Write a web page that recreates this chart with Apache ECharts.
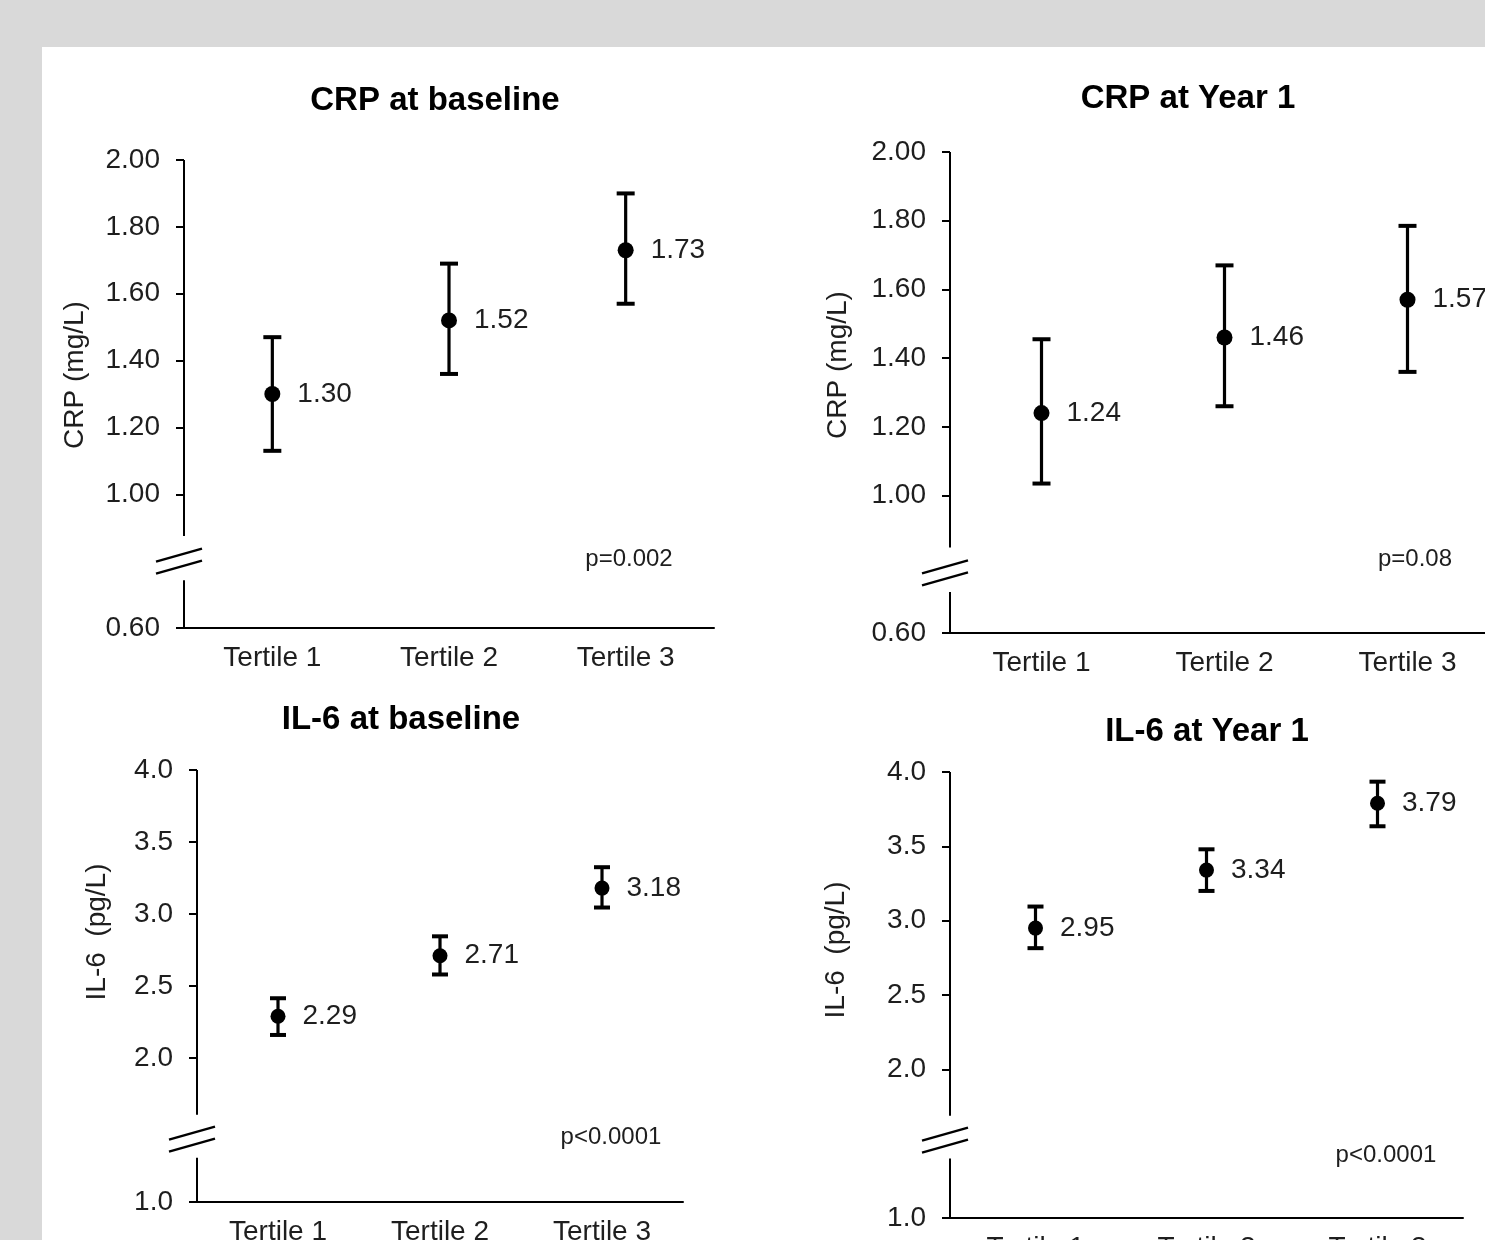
<!DOCTYPE html>
<html>
<head>
<meta charset="utf-8">
<script src="https://cdn.jsdelivr.net/npm/echarts@6/dist/echarts.min.js"></script>
<style>
html,body{margin:0;padding:0;background:#d9d9d9;}
#chart{width:1485px;height:1240px;}
</style>
</head>
<body>
<div id="chart"></div>
<script>
// ---------- data ----------
const categories = ['Tertile 1', 'Tertile 2', 'Tertile 3'];
const panelTitles = ['CRP at baseline', 'CRP at Year 1', 'IL-6 at baseline', 'IL-6 at Year 1'];
const yAxisNames = ['CRP (mg/L)', 'CRP (mg/L)', 'IL-6  (pg/L)', 'IL-6  (pg/L)'];
const pValueTexts = ['p=0.002', 'p=0.08', 'p<0.0001', 'p<0.0001'];

const crpBaselineMean = [1.30, 1.52, 1.73];
const crpBaselineLow  = [1.13, 1.36, 1.57];
const crpBaselineHigh = [1.47, 1.69, 1.90];

const crpYear1Mean = [1.24, 1.46, 1.57];
const crpYear1Low  = [1.035, 1.26, 1.36];
const crpYear1High = [1.455, 1.67, 1.785];

const il6BaselineMean = [2.29, 2.71, 3.18];
const il6BaselineLow  = [2.16, 2.58, 3.045];
const il6BaselineHigh = [2.415, 2.845, 3.325];

const il6Year1Mean = [2.95, 3.34, 3.79];
const il6Year1Low  = [2.815, 3.20, 3.635];
const il6Year1High = [3.095, 3.48, 3.935];

const yMinValues = [0.6, 0.6, 1.0, 1.0];
const yMaxValues = [2.0, 2.0, 4.0, 4.0];
const yIntervals = [0.2, 0.2, 0.5, 0.5];
const crpTickValues = [0.6, 1.0, 1.2, 1.4, 1.6, 1.8, 2.0];
const il6TickValues = [1.0, 2.0, 2.5, 3.0, 3.5, 4.0];
const tickDecimals = [2, 2, 1, 1];
// axis break: [lower end of gap, upper end of gap]
const axisGapValues = [[0.743, 0.875], [0.719, 0.849], [1.308, 1.606], [1.40, 1.687]];

// ---------- layout / style ----------
const FONT = "'Liberation Sans', Arial, Helvetica, sans-serif";
const TXT = '#1e1e1e';
const grids = [
  {left: 184, top: 160, width: 530, height: 468},
  {left: 950, top: 152, width: 549, height: 481},
  {left: 197, top: 770, width: 486, height: 432},
  {left: 950, top: 772, width: 513, height: 446}
];
const titlePos = [[435, 101], [1188, 99], [401, 720], [1207, 732]];
const namePos  = [[75, 375], [838, 365], [97, 932], [836, 950]];
const pPos     = [[629, 559], [1415, 559], [611, 1137], [1386, 1155]];
const capHalf  = [9, 9, 8, 8];
const dotSize  = [16, 16, 15, 15];

const panels = [
  {mean: crpBaselineMean, low: crpBaselineLow, high: crpBaselineHigh, ticks: crpTickValues},
  {mean: crpYear1Mean, low: crpYear1Low, high: crpYear1High, ticks: crpTickValues},
  {mean: il6BaselineMean, low: il6BaselineLow, high: il6BaselineHigh, ticks: il6TickValues},
  {mean: il6Year1Mean, low: il6Year1Low, high: il6Year1High, ticks: il6TickValues}
];

const chart = echarts.init(document.getElementById('chart'), null, {renderer: 'canvas'});

const gridOpt = [], xAxes = [], yAxes = [], series = [], graphics = [];

graphics.push({type: 'rect', z: -100, shape: {x: 42, y: 47, width: 1443, height: 1193}, style: {fill: '#ffffff'}});

panels.forEach((p, i) => {
  gridOpt.push(Object.assign({containLabel: false, outerBoundsMode: 'none'}, grids[i]));
  xAxes.push({
    type: 'category', gridIndex: i, data: categories,
    axisLine: {show: true, lineStyle: {color: '#000', width: 2}},
    axisTick: {show: false},
    axisLabel: {fontSize: 28, color: TXT, fontFamily: FONT, margin: 16},
    splitLine: {show: false}
  });
  const dec = tickDecimals[i];
  yAxes.push({
    type: 'value', gridIndex: i,
    min: yMinValues[i], max: yMaxValues[i], interval: yIntervals[i],
    axisLine: {show: false},
    axisTick: {show: true, inside: false, length: 8, lineStyle: {color: '#000', width: 2}, customValues: p.ticks},
    axisLabel: {fontSize: 28, color: TXT, fontFamily: FONT, margin: 24, customValues: p.ticks,
      formatter: v => Number(v).toFixed(dec)},
    splitLine: {show: false}
  });

  // axis line with break marks
  const gap = axisGapValues[i];
  const ymin = yMinValues[i], ymax = yMaxValues[i];
  series.push({
    type: 'custom', xAxisIndex: i, yAxisIndex: i, silent: true, clip: false, z: 3,
    data: [[0, ymin, ymax]],
    renderItem: function (params, api) {
      const x0 = params.coordSys.x;
      const yTop = api.coord([0, ymax])[1];
      const yBot = api.coord([0, ymin])[1];
      const yGapHi = api.coord([0, gap[1]])[1];
      const yGapLo = api.coord([0, gap[0]])[1];
      const mid = (yGapHi + yGapLo) / 2 + 3;
      const cx = x0 - 5, w = 23, r = 6.5;
      const st = {stroke: '#000', lineWidth: 2.4};
      return {type: 'group', children: [
        {type: 'line', shape: {x1: x0, y1: yTop, x2: x0, y2: yGapHi}, style: {stroke: '#000', lineWidth: 2}},
        {type: 'line', shape: {x1: x0, y1: yGapLo, x2: x0, y2: yBot + 1}, style: {stroke: '#000', lineWidth: 2}},
        {type: 'line', shape: {x1: cx - w, y1: mid - 6 + r, x2: cx + w, y2: mid - 6 - r}, style: st},
        {type: 'line', shape: {x1: cx - w, y1: mid + 6 + r, x2: cx + w, y2: mid + 6 - r}, style: st}
      ]};
    }
  });

  // error bars
  const hw = capHalf[i];
  series.push({
    type: 'custom', xAxisIndex: i, yAxisIndex: i, silent: true, z: 4,
    data: categories.map((c, k) => [k, p.low[k], p.high[k]]),
    encode: {x: 0, y: [1, 2]},
    renderItem: function (params, api) {
      const lo = api.coord([api.value(0), api.value(1)]);
      const hi = api.coord([api.value(0), api.value(2)]);
      const st = {stroke: '#000', lineWidth: 3.2};
      return {type: 'group', children: [
        {type: 'line', shape: {x1: lo[0], y1: lo[1], x2: hi[0], y2: hi[1]}, style: st},
        {type: 'line', shape: {x1: lo[0] - hw, y1: lo[1], x2: lo[0] + hw, y2: lo[1]}, style: {stroke: '#000', lineWidth: 4}},
        {type: 'line', shape: {x1: hi[0] - hw, y1: hi[1], x2: hi[0] + hw, y2: hi[1]}, style: {stroke: '#000', lineWidth: 4}}
      ]};
    }
  });

  // means
  series.push({
    type: 'scatter', xAxisIndex: i, yAxisIndex: i, z: 5,
    symbol: 'circle', symbolSize: dotSize[i],
    itemStyle: {color: '#000', opacity: 1},
    data: p.mean,
    label: {show: true, position: 'right', distance: 17, fontSize: 28, color: TXT, fontFamily: FONT,
      formatter: d => Number(d.value).toFixed(2)},
    emphasis: {disabled: true}
  });

  graphics.push({type: 'text', x: titlePos[i][0], y: titlePos[i][1], z: 10,
    style: {text: panelTitles[i], fontSize: 33, fontWeight: 'bold', fill: '#000', fontFamily: FONT, align: 'center', verticalAlign: 'middle'}});
  graphics.push({type: 'text', x: namePos[i][0], y: namePos[i][1], rotation: Math.PI / 2, z: 10,
    style: {text: yAxisNames[i], fontSize: 28, fill: TXT, fontFamily: FONT, align: 'center', verticalAlign: 'middle'}});
  graphics.push({type: 'text', x: pPos[i][0], y: pPos[i][1], z: 10,
    style: {text: pValueTexts[i], fontSize: 24, fill: TXT, fontFamily: FONT, align: 'center', verticalAlign: 'middle'}});
});

chart.setOption({
  backgroundColor: '#d9d9d9',
  animation: false,
  grid: gridOpt,
  xAxis: xAxes,
  yAxis: yAxes,
  series: series,
  graphic: graphics
});
</script>
</body>
</html>
